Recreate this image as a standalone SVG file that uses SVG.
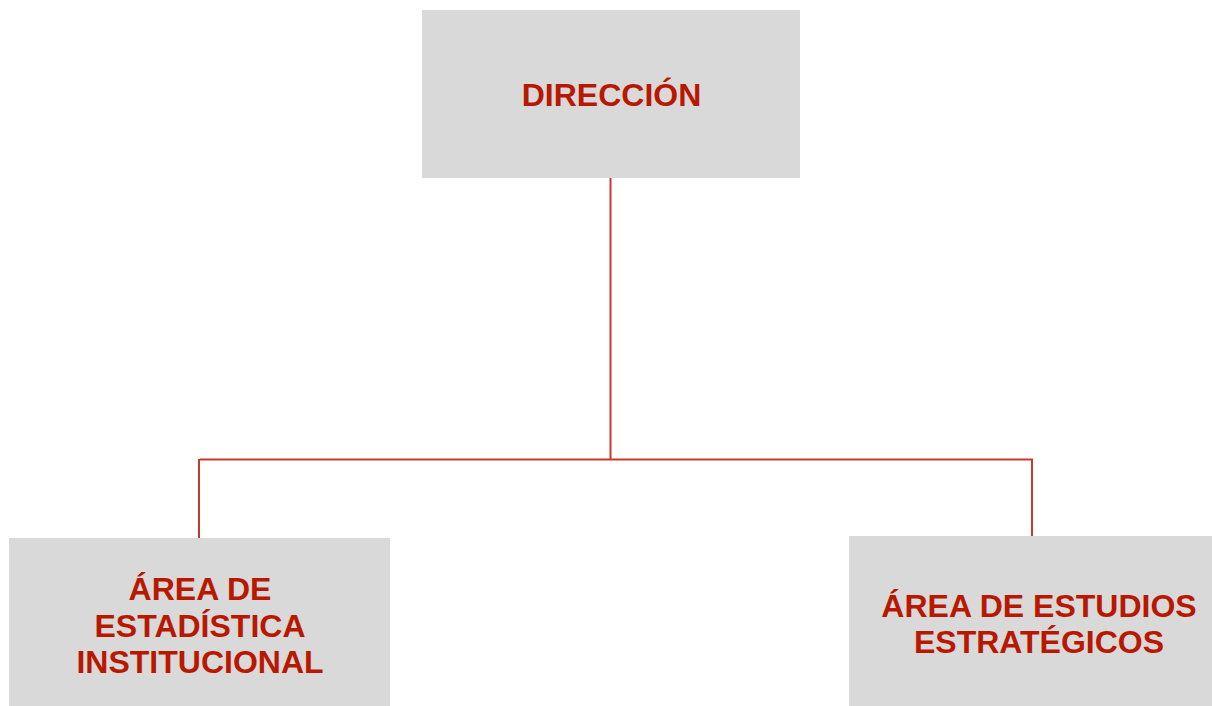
<svg xmlns="http://www.w3.org/2000/svg" width="1212" height="706" viewBox="0 0 1212 706">
<style>
.box{fill:#d9d9d9}
.t{font-family:"Liberation Sans",Arial,sans-serif;font-weight:bold;font-size:32px;fill:#b81800;text-anchor:middle}
.c{stroke:#c53a2c;stroke-width:2;fill:none}
</style>
<rect width="1212" height="706" fill="#ffffff"/>
<g id="connectors">
<line class="c" x1="610.5" y1="178" x2="610.5" y2="460"/>
<line class="c" x1="200" y1="459.5" x2="1033" y2="459.5"/>
<line class="c" x1="199" y1="459" x2="199" y2="538"/>
<line class="c" x1="1032" y1="459" x2="1032" y2="536"/>
</g>
<g id="direccion">
<rect class="box" x="422" y="10" width="378" height="168"/>
<text class="t" x="611.5" y="106">DIRECCIÓN</text>
</g>
<g id="estadistica">
<rect class="box" x="9" y="538" width="381" height="168"/>
<text class="t" x="200" y="600">ÁREA DE</text>
<text class="t" x="200" y="637">ESTADÍSTICA</text>
<text class="t" x="200" y="673">INSTITUCIONAL</text>
</g>
<g id="estudios">
<rect class="box" x="849" y="536" width="363" height="170"/>
<text class="t" x="1039" y="617">ÁREA DE ESTUDIOS</text>
<text class="t" x="1039" y="653">ESTRATÉGICOS</text>
</g>
</svg>
